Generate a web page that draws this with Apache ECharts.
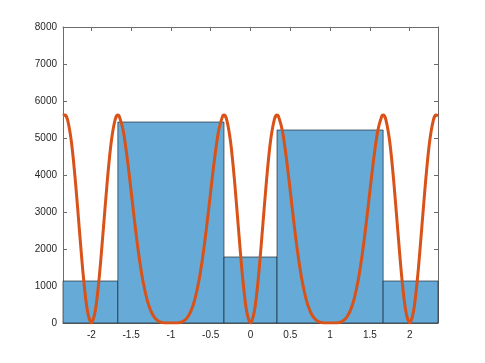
<!DOCTYPE html>
<html>
<head>
<meta charset="utf-8">
<script src="https://cdn.jsdelivr.net/npm/echarts@6/dist/echarts.min.js"></script>
<style>html,body{margin:0;padding:0;background:#fff;}#c{width:485px;height:363px;}</style>
</head>
<body>
<div id="c"></div>
<script>
// Histogram bins (edges) and counts
const binEdges = [-2.356, -1.6667, -0.3333, 0.3333, 1.6667, 2.356];
const binCounts = [1135, 5432, 1784, 5216, 1135];

// Orange curve points
const curveX = [-2.356, -2.3333, -2.3, -2.25, -2.2, -2.15, -2.1, -2.05, -2, -1.95, -1.9, -1.85, -1.8, -1.75, -1.7, -1.6667, -1.65, -1.6, -1.55, -1.5, -1.45, -1.4, -1.35, -1.3, -1.25, -1.2, -1.15, -1.1, -1.05, -1, -0.95, -0.9, -0.85, -0.8, -0.75, -0.7, -0.65, -0.6, -0.55, -0.5, -0.45, -0.4, -0.35, -0.3333, -0.3, -0.25, -0.2, -0.15, -0.1, -0.05, 0, 0.05, 0.1, 0.15, 0.2, 0.25, 0.3, 0.3333, 0.35, 0.4, 0.45, 0.5, 0.55, 0.6, 0.65, 0.7, 0.75, 0.8, 0.85, 0.9, 0.95, 1, 1.05, 1.1, 1.15, 1.2, 1.25, 1.3, 1.35, 1.4, 1.45, 1.5, 1.55, 1.6, 1.65, 1.6667, 1.7, 1.75, 1.8, 1.85, 1.9, 1.95, 2, 2.05, 2.1, 2.15, 2.2, 2.25, 2.3, 2.3333, 2.356];
const curveY = [5600, 5620, 5503, 4891, 3828, 2518, 1252, 335, 0, 335, 1252, 2518, 3828, 4891, 5503, 5620, 5592, 5203, 4470, 3558, 2626, 1792, 1121, 634, 315, 132, 42, 8, 1, 0, 1, 8, 42, 132, 315, 634, 1121, 1792, 2626, 3558, 4470, 5203, 5592, 5620, 5503, 4891, 3828, 2518, 1252, 335, 0, 335, 1252, 2518, 3828, 4891, 5503, 5620, 5592, 5203, 4470, 3558, 2626, 1792, 1121, 634, 315, 132, 42, 8, 1, 0, 1, 8, 42, 132, 315, 634, 1121, 1792, 2626, 3558, 4470, 5203, 5592, 5620, 5503, 4891, 3828, 2518, 1252, 335, 0, 335, 1252, 2518, 3828, 4891, 5503, 5620, 5600];

// Tick labels
const xTicks = [-2, -1.5, -1, -0.5, 0, 0.5, 1, 1.5, 2];
const yMin = 0, yMax = 8000, yStep = 1000;
const xMin = -2.356, xMax = 2.356;

const axisColor = '#6b6b6b';
const labelColor = '#262626';
const fontFamily = 'Liberation Sans, Arial, Helvetica, sans-serif';

const chart = echarts.init(document.getElementById('c'), null, {renderer: 'canvas'});

const barData = binCounts.map((c, i) => [binEdges[i], binEdges[i + 1], c]);
const lineData = curveX.map((x, i) => [x, curveY[i]]);

const xCommon = {
  type: 'value', min: xMin, max: xMax,
  splitLine: {show: false},
  axisLine: {show: true, onZero: false, lineStyle: {color: axisColor, width: 1}},
};
const yCommon = {
  type: 'value', min: yMin, max: yMax, interval: yStep,
  splitLine: {show: false},
  axisLine: {show: true, onZero: false, lineStyle: {color: axisColor, width: 1}},
};

chart.setOption({
  animation: false,
  backgroundColor: '#fff',
  grid: {left: 63, right: 47, top: 27, bottom: 40, containLabel: false},
  xAxis: [
    Object.assign({}, xCommon, {
      position: 'bottom',
      axisTick: {show: true, inside: true, length: 4, customValues: xTicks, lineStyle: {color: axisColor}},
      axisLabel: {show: true, customValues: xTicks, color: labelColor, fontSize: 10, fontFamily: fontFamily, margin: 7,
        formatter: v => String(v)}
    }),
    Object.assign({}, xCommon, {
      position: 'top',
      axisTick: {show: true, inside: true, length: 4, customValues: xTicks, lineStyle: {color: axisColor}},
      axisLabel: {show: false}
    })
  ],
  yAxis: [
    Object.assign({}, yCommon, {
      position: 'left',
      axisTick: {show: true, inside: true, length: 4, lineStyle: {color: axisColor}},
      axisLabel: {show: true, color: labelColor, fontSize: 10, fontFamily: fontFamily, margin: 6,
        formatter: v => String(v)}
    }),
    Object.assign({}, yCommon, {
      position: 'right',
      axisTick: {show: true, inside: true, length: 4, lineStyle: {color: axisColor}},
      axisLabel: {show: false}
    })
  ],
  series: [
    {
      type: 'custom',
      xAxisIndex: 0, yAxisIndex: 0,
      data: barData,
      encode: {x: [0, 1], y: 2},
      z: 2,
      renderItem: function (params, api) {
        const p0 = api.coord([api.value(0), 0]);
        const p1 = api.coord([api.value(1), api.value(2)]);
        return {
          type: 'rect',
          shape: {x: p0[0], y: p1[1], width: p1[0] - p0[0], height: p0[1] - p1[1]},
          style: {fill: '#66aad7', stroke: 'rgba(20,30,40,0.8)', lineWidth: 0.8}
        };
      }
    },
    {
      type: 'line',
      xAxisIndex: 0, yAxisIndex: 0,
      data: lineData,
      showSymbol: false,
      smooth: 0.3,
      z: 5,
      lineStyle: {color: '#d95319', width: 3}
    }
  ]
});
</script>
</body>
</html>
